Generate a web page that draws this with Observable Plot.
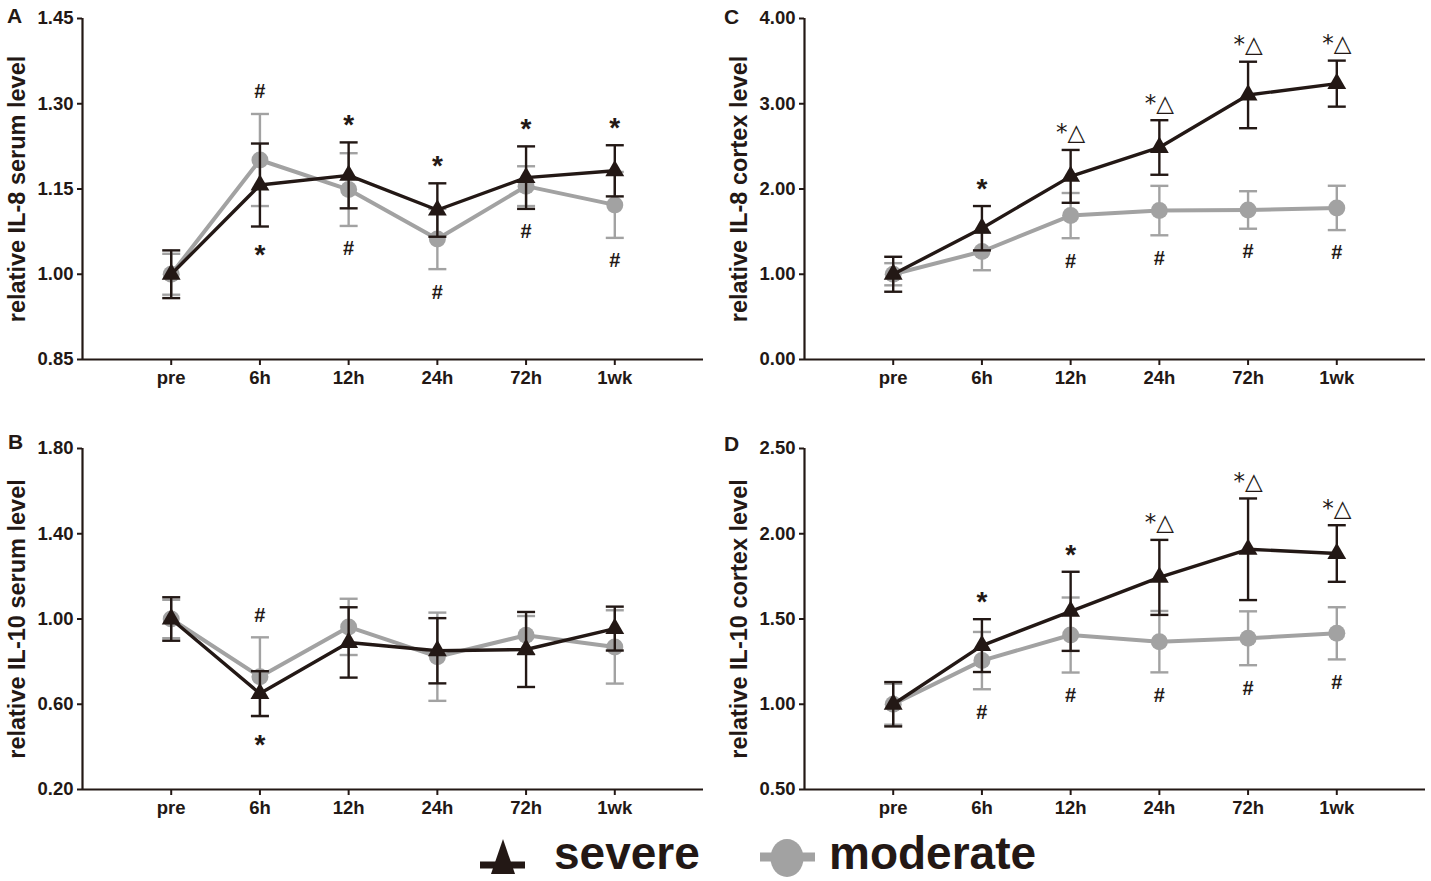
<!DOCTYPE html>
<html>
<head>
<meta charset="utf-8">
<script src="https://cdn.jsdelivr.net/npm/d3@7"></script>
<script src="https://cdn.jsdelivr.net/npm/@observablehq/plot@0.6"></script>
<style>
  html, body { margin: 0; padding: 0; background: #fff; overflow: hidden; }
  #root { position: relative; width: 1431px; height: 881px; }
  .panel { position: absolute; }
  .letter { position: absolute; font: bold 21px "Liberation Sans", Arial, sans-serif; color: #231815; line-height: 21px; }
</style>
</head>
<body>
<div id="root"></div>
<script>
// ---------- data ----------
const times = ["pre", "6h", "12h", "24h", "72h", "1wk"];
const seriesNames = ["severe", "moderate"];

// A: IL-8 serum
const severeA_mean   = [1.000, 1.157, 1.174, 1.113, 1.170, 1.182];
const severeA_err    = [0.042, 0.073, 0.058, 0.047, 0.055, 0.045];
const moderateA_mean = [1.000, 1.201, 1.149, 1.062, 1.155, 1.122];
const moderateA_err  = [0.036, 0.081, 0.064, 0.053, 0.035, 0.058];
const ticksA = [0.85, 1.00, 1.15, 1.30, 1.45];
const notesA = [
  {time: "6h", label: "#", side: "top"}, {time: "6h", label: "*", side: "bottom"},
  {time: "12h", label: "*", side: "top"}, {time: "12h", label: "#", side: "bottom"},
  {time: "24h", label: "*", side: "top"}, {time: "24h", label: "#", side: "bottom"},
  {time: "72h", label: "*", side: "top"}, {time: "72h", label: "#", side: "bottom"},
  {time: "1wk", label: "*", side: "top"}, {time: "1wk", label: "#", side: "bottom"}
];

// B: IL-10 serum
const severeB_mean   = [1.000, 0.650, 0.890, 0.851, 0.857, 0.955];
const severeB_err    = [0.102, 0.105, 0.165, 0.153, 0.176, 0.103];
const moderateB_mean = [1.000, 0.729, 0.963, 0.823, 0.924, 0.869];
const moderateB_err  = [0.090, 0.185, 0.132, 0.207, 0.090, 0.172];
const ticksB = [0.20, 0.60, 1.00, 1.40, 1.80];
const notesB = [
  {time: "6h", label: "#", side: "top"}, {time: "6h", label: "*", side: "bottom"}
];

// C: IL-8 cortex
const severeC_mean   = [1.000, 1.540, 2.148, 2.487, 3.103, 3.236];
const severeC_err    = [0.205, 0.260, 0.310, 0.320, 0.390, 0.270];
const moderateC_mean = [1.000, 1.267, 1.688, 1.747, 1.754, 1.778];
const moderateC_err  = [0.130, 0.220, 0.265, 0.290, 0.220, 0.260];
const ticksC = [0.00, 1.00, 2.00, 3.00, 4.00];
const notesC = [
  {time: "6h", label: "*", side: "top"},
  {time: "12h", label: "*△", side: "top"}, {time: "12h", label: "#", side: "bottom"},
  {time: "24h", label: "*△", side: "top"}, {time: "24h", label: "#", side: "bottom"},
  {time: "72h", label: "*△", side: "top"}, {time: "72h", label: "#", side: "bottom"},
  {time: "1wk", label: "*△", side: "top"}, {time: "1wk", label: "#", side: "bottom"}
];

// D: IL-10 cortex
const severeD_mean   = [1.000, 1.344, 1.545, 1.744, 1.909, 1.884];
const severeD_err    = [0.130, 0.155, 0.232, 0.220, 0.298, 0.166];
const moderateD_mean = [1.000, 1.256, 1.406, 1.367, 1.387, 1.416];
const moderateD_err  = [0.120, 0.168, 0.220, 0.180, 0.158, 0.153];
const ticksD = [0.50, 1.00, 1.50, 2.00, 2.50];
const notesD = [
  {time: "6h", label: "*", side: "top"}, {time: "6h", label: "#", side: "bottom"},
  {time: "12h", label: "*", side: "top"}, {time: "12h", label: "#", side: "bottom"},
  {time: "24h", label: "*△", side: "top"}, {time: "24h", label: "#", side: "bottom"},
  {time: "72h", label: "*△", side: "top"}, {time: "72h", label: "#", side: "bottom"},
  {time: "1wk", label: "*△", side: "top"}, {time: "1wk", label: "#", side: "bottom"}
];

// ---------- styles ----------
const INK = "#231815";
const GRAY = "#a2a2a2";
const SANS = "'Liberation Sans', Arial, Helvetica, sans-serif";
const noteStyle = {
  "*":  {fontSize: 28, fontFamily: SANS, fontWeight: "bold", top: -17, bottom: 29},
  "#":  {fontSize: 20, fontFamily: SANS, fontWeight: "bold", top: -22, bottom: 23},
  "*△": {fontSize: 23, fontFamily: "'DejaVu Sans', sans-serif", fontWeight: "normal", top: -17, bottom: 17}
};

// horizontal cap symbol for error bars
const capSymbol = {
  draw(context, size) {
    const r = Math.sqrt(size / Math.PI);
    context.moveTo(-r, 0);
    context.lineTo(r, 0);
  }
};

function rowsOf(mean, err) {
  return times.map((t, i) => ({time: t, mean: mean[i], lo: mean[i] - err[i], hi: mean[i] + err[i]}));
}

function errorMarks(rows, color) {
  return [
    Plot.ruleX(rows, {x: "time", y1: "lo", y2: "hi", stroke: color, strokeWidth: 2.4}),
    Plot.dot(rows, {x: "time", y: "hi", symbol: capSymbol, r: 9, stroke: color, fill: "none", strokeWidth: 2.4}),
    Plot.dot(rows, {x: "time", y: "lo", symbol: capSymbol, r: 9, stroke: color, fill: "none", strokeWidth: 2.4})
  ];
}

function panel(cfg) {
  const {sevMean, sevErr, modMean, modErr, ticks, title, notes, marginLeft, marginRight, width} = cfg;
  const sev = rowsOf(sevMean, sevErr);
  const mod = rowsOf(modMean, modErr);
  const noteRows = notes.map(n => {
    const i = times.indexOf(n.time);
    return {...n, y: n.side === "top" ? Math.max(sev[i].hi, mod[i].hi) : Math.min(sev[i].lo, mod[i].lo)};
  });
  const marginTop = 18, marginBottom = 41, height = marginTop + 341 + marginBottom;
  const step = (width - marginLeft - marginRight) / (times.length + 1);
  const domain = [ticks[0], ticks[ticks.length - 1]];

  const noteMarks = [];
  for (const label of Object.keys(noteStyle)) {
    const s = noteStyle[label];
    for (const side of ["top", "bottom"]) {
      const data = noteRows.filter(d => d.label === label && d.side === side);
      if (!data.length) continue;
      noteMarks.push(Plot.text(data, {
        x: "time", y: "y", text: "label", dy: s[side],
        fontSize: s.fontSize, fontFamily: s.fontFamily, fontWeight: s.fontWeight,
        fill: INK, textAnchor: "middle", lineAnchor: "middle"
      }));
    }
  }

  return Plot.plot({
    width, height, marginLeft, marginRight, marginTop, marginBottom,
    style: {fontFamily: SANS, fontSize: "18px", fontWeight: "bold", color: INK, background: "transparent", overflow: "visible"},
    x: {type: "point", domain: times, padding: 1, round: false},
    y: {domain, nice: false},
    marks: [
      Plot.axisY(ticks, {tickSize: 5, tickPadding: 4, tickFormat: d3.format(".2f"), label: null, strokeWidth: 2, fontSize: 18.5, fontWeight: "bold"}),
      Plot.axisX({tickSize: 6, tickPadding: 5, label: null, strokeWidth: 2, fontSize: 18.5, fontWeight: "bold"}),
      Plot.ruleY([domain[0]], {stroke: INK, strokeWidth: 2.2}),
      Plot.ruleX([times[0]], {dx: -step, stroke: INK, strokeWidth: 2.2}),
      Plot.text([title], {frameAnchor: "left", dx: -65, rotate: -90, textAnchor: "middle", lineAnchor: "middle",
        fontSize: 23.5, fontWeight: "bold", fontFamily: SANS, fill: INK}),
      ...errorMarks(mod, GRAY),
      Plot.line(mod, {x: "time", y: "mean", stroke: GRAY, strokeWidth: 4}),
      Plot.dot(mod, {x: "time", y: "mean", r: 8.5, fill: GRAY, symbol: "circle"}),
      ...errorMarks(sev, INK),
      Plot.line(sev, {x: "time", y: "mean", stroke: INK, strokeWidth: 3.4}),
      Plot.dot(sev, {x: "time", y: "mean", r: 7, fill: INK, symbol: "triangle"}),
      ...noteMarks
    ]
  });
}

const root = document.getElementById("root");
function place(el, left, top) {
  const wrap = document.createElement("div");
  wrap.className = "panel";
  wrap.style.left = left + "px";
  wrap.style.top = top + "px";
  wrap.appendChild(el);
  root.appendChild(wrap);
}
function letter(t, left, top) {
  const d = document.createElement("div");
  d.className = "letter";
  d.textContent = t;
  d.style.left = left + "px";
  d.style.top = top + "px";
  root.appendChild(d);
}

const leftCfg = {marginLeft: 82, marginRight: 12, width: 715};
const rightCfg = {marginLeft: 89, marginRight: 6, width: 716};

place(panel({...leftCfg, sevMean: severeA_mean, sevErr: severeA_err, modMean: moderateA_mean, modErr: moderateA_err,
  ticks: ticksA, title: "relative IL-8 serum level", notes: notesA}), 0, 0);
place(panel({...leftCfg, sevMean: severeB_mean, sevErr: severeB_err, modMean: moderateB_mean, modErr: moderateB_err,
  ticks: ticksB, title: "relative IL-10 serum level", notes: notesB}), 0, 430);
place(panel({...rightCfg, sevMean: severeC_mean, sevErr: severeC_err, modMean: moderateC_mean, modErr: moderateC_err,
  ticks: ticksC, title: "relative IL-8 cortex level", notes: notesC}), 715, 0);
place(panel({...rightCfg, sevMean: severeD_mean, sevErr: severeD_err, modMean: moderateD_mean, modErr: moderateD_err,
  ticks: ticksD, title: "relative IL-10 cortex level", notes: notesD}), 715, 430);

letter("A", 7, 5);
letter("B", 8, 431);
letter("C", 724, 6);
letter("D", 724, 433);

// ---------- legend ----------
const ns = "http://www.w3.org/2000/svg";
const leg = document.createElementNS(ns, "svg");
leg.setAttribute("width", 1431);
leg.setAttribute("height", 61);
leg.style.position = "absolute";
leg.style.left = "0px";
leg.style.top = "820px";
leg.innerHTML = `
  <line x1="480" x2="525" y1="45" y2="45" stroke="${INK}" stroke-width="7"/>
  <polygon points="503,19 491,54 515,54" fill="${INK}"/>
  <text x="554" y="49" font-family="${SANS}" font-weight="bold" font-size="46" fill="${INK}">${seriesNames[0]}</text>
  <line x1="760" x2="815" y1="37" y2="37" stroke="${GRAY}" stroke-width="9"/>
  <ellipse cx="787" cy="38" rx="16.5" ry="19" fill="${GRAY}"/>
  <text x="829" y="49" font-family="${SANS}" font-weight="bold" font-size="46" fill="${INK}">${seriesNames[1]}</text>
`;
root.appendChild(leg);
</script>
</body>
</html>
